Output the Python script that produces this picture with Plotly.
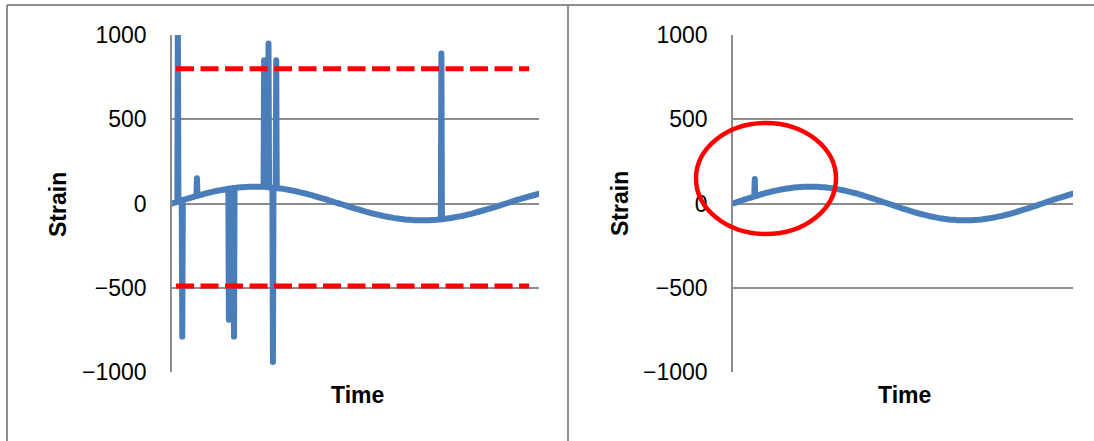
import numpy as np
import plotly.graph_objects as go

# ---- data ----
time = list(range(0, 101))
strain_base = [0, 7, 14, 21, 27, 34, 40, 46, 52, 58, 64, 69, 74, 78, 82, 86, 89, 92, 95, 97,
               98, 99, 100, 100, 100, 99, 97, 96, 93, 91, 88, 84, 80, 76, 71, 66, 61, 55, 50,
               43, 37, 31, 24, 17, 10, 3, -3, -10, -17, -24, -31, -37, -43, -50, -55, -61,
               -66, -71, -76, -80, -84, -88, -91, -93, -96, -97, -99, -100, -100, -100, -99,
               -98, -97, -95, -92, -89, -86, -82, -78, -74, -69, -64, -58, -52, -46, -40, -34,
               -27, -21, -14, -7, 0, 7, 14, 21, 27, 34, 40, 46, 52, 58]

# noisy spikes in the left (raw) panel
left_spike_time = [1.6, 2.8, 6.8, 15.5, 16.9, 25.1, 26.3, 27.5, 28.4, 73.4]
left_spike_value = [1100, -790, 150, -690, -790, 850, 950, -940, 850, 890]

# remaining spike in the right (filtered) panel
right_spike_time = [6.4]
right_spike_value = [145]

# threshold lines (left panel)
thr_time = [1.1, 97.3]
upper_threshold = 800
lower_threshold = -490

y_ticks = [-1000, -500, 0, 500, 1000]

W, H = 1094, 441
BLUE = "#4A7EBB"
GRID = "#8C8C8C"
FONT = "Liberation Sans, Arial, sans-serif"


def with_spikes(t_list, v_list, st, sv):
    pts = [(t, v) for t, v in zip(t_list, v_list)
           if all(abs(t - s) > 0.3 for s in st)]
    for ts, vs in zip(st, sv):
        b = float(np.interp(ts, t_list, v_list))
        pts += [(ts - 0.15, b), (ts, vs), (ts + 0.15, b)]
    pts.sort(key=lambda p: p[0])
    return [p[0] for p in pts], [p[1] for p in pts]


lx, ly = with_spikes(time, strain_base, left_spike_time, left_spike_value)
rx, ry = with_spikes(time, strain_base, right_spike_time, right_spike_value)

fig = go.Figure()
fig.add_trace(go.Scatter(x=lx, y=ly, mode="lines", xaxis="x", yaxis="y",
                         line=dict(color=BLUE, width=6, simplify=False), showlegend=False))
for v in (upper_threshold, lower_threshold):
    fig.add_trace(go.Scatter(x=thr_time, y=[v, v], mode="lines", xaxis="x", yaxis="y",
                             line=dict(color="#FF0000", width=5, dash="18px,6.5px"),
                             showlegend=False))
fig.add_trace(go.Scatter(x=rx, y=ry, mode="lines", xaxis="x2", yaxis="y2",
                         line=dict(color=BLUE, width=6, simplify=False), showlegend=False))


def px_x(p):
    return p / W


def px_y(p):
    return 1 - p / H


ydom = [px_y(372), px_y(35)]
yaxis_common = dict(range=[-1000, 1000], tickvals=y_ticks, showgrid=True, gridcolor=GRID,
                    gridwidth=1.5, zeroline=False, showline=True, linecolor=GRID,
                    linewidth=1.5, ticks="", ticklabelstandoff=19, automargin=False,
                    tickfont=dict(family=FONT, size=23, color="black"), domain=ydom,
                    fixedrange=True)
xaxis_common = dict(range=[0, 100], showgrid=False, zeroline=False, showline=False,
                    showticklabels=False, ticks="", fixedrange=True, automargin=False)

fig.update_layout(
    template="none",
    width=W, height=H, margin=dict(l=0, r=0, t=0, b=0, pad=0, autoexpand=False),
    paper_bgcolor="white", plot_bgcolor="white",
    xaxis=dict(xaxis_common, domain=[px_x(172), px_x(539)], anchor="y"),
    yaxis=dict(yaxis_common, anchor="x"),
    xaxis2=dict(xaxis_common, domain=[px_x(733), px_x(1073)], anchor="y2"),
    yaxis2=dict(yaxis_common, anchor="x2"),
)

title_font = dict(family=FONT, size=23, color="black")
annotations = []
for cx_strain, cx_time in ((58, 357), (620, 904)):
    annotations.append(dict(text="<b>Strain</b>", textangle=-90, x=px_x(cx_strain), y=px_y(204),
                            xref="paper", yref="paper", showarrow=False, font=title_font,
                            xanchor="center", yanchor="middle"))
    annotations.append(dict(text="<b>Time</b>", x=px_x(cx_time), y=px_y(395),
                            xref="paper", yref="paper", showarrow=False, font=title_font,
                            xanchor="center", yanchor="middle"))
fig.update_layout(annotations=annotations)

BORDER = "#8E8E8E"
shapes = [
    dict(type="line", xref="paper", yref="paper", x0=px_x(7), x1=1.01, y0=px_y(5), y1=px_y(5),
         line=dict(color=BORDER, width=2)),
    dict(type="line", xref="paper", yref="paper", x0=px_x(7), x1=px_x(7), y0=px_y(5), y1=-0.1,
         line=dict(color=BORDER, width=2)),
    dict(type="line", xref="paper", yref="paper", x0=px_x(568), x1=px_x(568), y0=px_y(5), y1=-0.1,
         line=dict(color=BORDER, width=2)),
    dict(type="circle", xref="paper", yref="paper", x0=px_x(696), x1=px_x(836),
         y0=px_y(234), y1=px_y(123), line=dict(color="#FF0000", width=4.5), layer="above"),
]
fig.update_layout(shapes=shapes)

post = """
document.body.style.margin='0';
document.body.style.padding='0';
document.body.style.overflow='hidden';
document.querySelectorAll('.scatterlayer path.js-line').forEach(function(p){
  var s = (p.style.stroke || '').replace(/\\s/g, '');
  if (s.indexOf('74,126,187') >= 0 || s.toLowerCase() === '#4a7ebb') {
    p.style.strokeLinejoin = 'round'; p.style.strokeLinecap = 'round';
  }
});
"""
fig.write_html("out.html", post_script=post, config={"displayModeBar": False})
